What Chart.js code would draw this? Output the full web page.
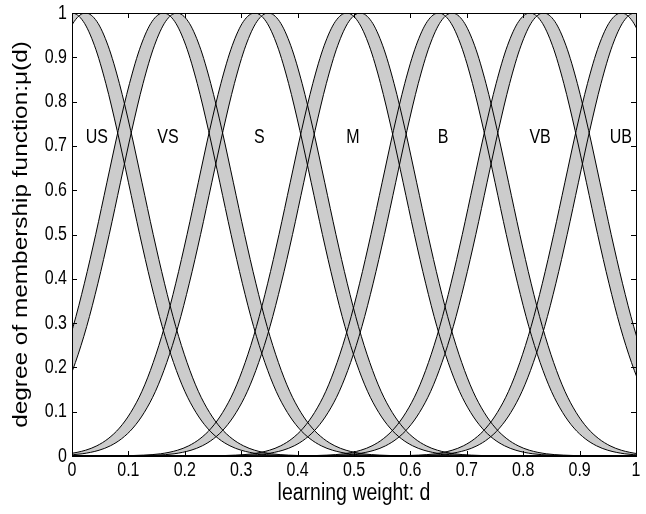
<!DOCTYPE html>
<html>
<head>
<meta charset="utf-8">
<script src="https://cdn.jsdelivr.net/npm/chart.js@4/dist/chart.umd.min.js"></script>
<style>
  html, body { margin: 0; padding: 0; background: #fff; }
  #wrap { width: 646px; height: 514px; }
</style>
</head>
<body>
<div id="wrap"><canvas id="c" width="646" height="514"></canvas></div>
<script>
// Interval type-2 Gaussian sets

// fuzzy set names and where their peaks sit on the d axis
const setLabels = ['US', 'VS', 'S', 'M', 'B', 'VB', 'UB'];
const setCenters = [0.012, 0.174, 0.336, 0.499, 0.662, 0.824, 0.986];
// the two bounding gaussians are shifted by this much either side of the centre
const meanSpread = 0.012;

// one gaussian shape: height vs distance from its mean
const profileOffsets = [0, 0.02, 0.04, 0.06, 0.08, 0.10, 0.12, 0.14, 0.16, 0.18, 0.20,
                        0.22, 0.24, 0.26, 0.28, 0.30, 0.33, 0.36, 0.40, 0.45, 0.50, 1.10];
const profileValues = [1, 0.981, 0.926, 0.841, 0.735, 0.618, 0.500, 0.390, 0.292, 0.211, 0.146,
                       0.098, 0.063, 0.039, 0.023, 0.013, 0.005, 0.002, 0.0005, 0.0001, 0, 0];

// where the set names are written
const labelX = [0.044, 0.170, 0.332, 0.498, 0.658, 0.830, 0.973];
const labelY = 0.72;

const tickValues = [0, 0.1, 0.2, 0.3, 0.4, 0.5, 0.6, 0.7, 0.8, 0.9, 1];
const tickText = ['0', '0.1', '0.2', '0.3', '0.4', '0.5', '0.6', '0.7', '0.8', '0.9', '1'];

const xTitle = 'learning weight: d';
const yTitle = 'degree of membership function:\u03bc(d)';

const FONT = '"Liberation Sans", Arial, Helvetica, sans-serif';
// the original figure was stretched vertically, so its lettering is taller than wide
const STRETCH = 1.25;

// build a curve from the shared profile around a given mean
function curveAround(mean) {
    const pts = [];
    for (let i = profileOffsets.length - 1; i > 0; i--) {
        pts.push({ x: mean - profileOffsets[i], y: profileValues[i] });
    }
    for (let i = 0; i < profileOffsets.length; i++) {
        pts.push({ x: mean + profileOffsets[i], y: profileValues[i] });
    }
    return pts;
}

const datasets = [];
setCenters.forEach((c, k) => {
    datasets.push({
        label: setLabels[k] + ' left',
        data: curveAround(c - meanSpread),
        borderColor: '#000',
        borderWidth: 1,
        pointRadius: 0,
        fill: false,
        cubicInterpolationMode: 'monotone'
    });
    datasets.push({
        label: setLabels[k] + ' right',
        data: curveAround(c + meanSpread),
        borderColor: '#000',
        backgroundColor: '#cccccc',
        borderWidth: 1,
        pointRadius: 0,
        fill: '-1',
        cubicInterpolationMode: 'monotone'
    });
});

// text squeezed like the original: stretched along y (or along the text when rotated)
function stretchedText(ctx, text, x, y, align, size, rotated) {
    ctx.save();
    ctx.translate(x, y);
    if (rotated) {
        ctx.rotate(-Math.PI / 2);
        ctx.scale(STRETCH, 1);
    } else {
        ctx.scale(1, STRETCH);
    }
    ctx.font = size + 'px ' + FONT;
    ctx.textAlign = align;
    ctx.textBaseline = 'middle';
    ctx.fillText(text, 0, 0);
    ctx.restore();
}

// matlab style box, inward ticks on all sides, tick labels, titles and set names
const boxPlugin = {
    id: 'boxPlugin',
    afterDatasetsDraw(chart) {
        const { ctx, chartArea: a, scales } = chart;
        ctx.save();
        ctx.strokeStyle = '#000';
        ctx.lineWidth = 1;
        ctx.beginPath();
        tickValues.forEach(v => {
            const px = Math.round(scales.x.getPixelForValue(v)) + 0.5;
            ctx.moveTo(px, a.bottom); ctx.lineTo(px, a.bottom - 5);
            ctx.moveTo(px, a.top); ctx.lineTo(px, a.top + 5);
            const py = Math.round(scales.y.getPixelForValue(v)) + 0.5;
            ctx.moveTo(a.left, py); ctx.lineTo(a.left + 5, py);
            ctx.moveTo(a.right, py); ctx.lineTo(a.right - 5, py);
        });
        ctx.stroke();
        ctx.strokeRect(Math.round(a.left) + 0.5, Math.round(a.top) + 0.5,
                       Math.round(a.right - a.left), Math.round(a.bottom - a.top));

        ctx.fillStyle = '#000';
        tickValues.forEach((v, i) => {
            stretchedText(ctx, tickText[i], scales.x.getPixelForValue(v), a.bottom + 14, 'center', 16, false);
            stretchedText(ctx, tickText[i], a.left - 5, scales.y.getPixelForValue(v), 'right', 16, false);
        });
        stretchedText(ctx, xTitle, (a.left + a.right) / 2, a.bottom + 37, 'center', 19.5, false);
        stretchedText(ctx, yTitle, 22, (a.top + a.bottom) / 2, 'center', 19.5, true);

        setLabels.forEach((s, k) => {
            stretchedText(ctx, s, scales.x.getPixelForValue(labelX[k]), scales.y.getPixelForValue(labelY),
                          'center', 16, false);
        });
        ctx.restore();
    }
};

new Chart(document.getElementById('c'), {
    type: 'line',
    data: { datasets: datasets },
    options: {
        responsive: false,
        animation: false,
        layout: { padding: { top: 13, right: 10, bottom: 0, left: 0 } },
        plugins: {
            legend: { display: false },
            tooltip: { enabled: false },
            filler: { drawTime: 'beforeDatasetsDraw' }
        },
        scales: {
            x: {
                type: 'linear',
                min: 0,
                max: 1,
                afterFit(scale) { scale.height = 58; },
                afterBuildTicks(scale) { scale.ticks = tickValues.map(v => ({ value: v })); },
                ticks: { display: false },
                grid: { drawOnChartArea: false, drawTicks: false },
                border: { color: '#000' }
            },
            y: {
                type: 'linear',
                min: 0,
                max: 1,
                afterFit(scale) { scale.width = 72; },
                afterBuildTicks(scale) { scale.ticks = tickValues.map(v => ({ value: v })); },
                ticks: { display: false },
                grid: { drawOnChartArea: false, drawTicks: false },
                border: { color: '#000' }
            }
        }
    },
    plugins: [boxPlugin]
});
</script>
</body>
</html>
